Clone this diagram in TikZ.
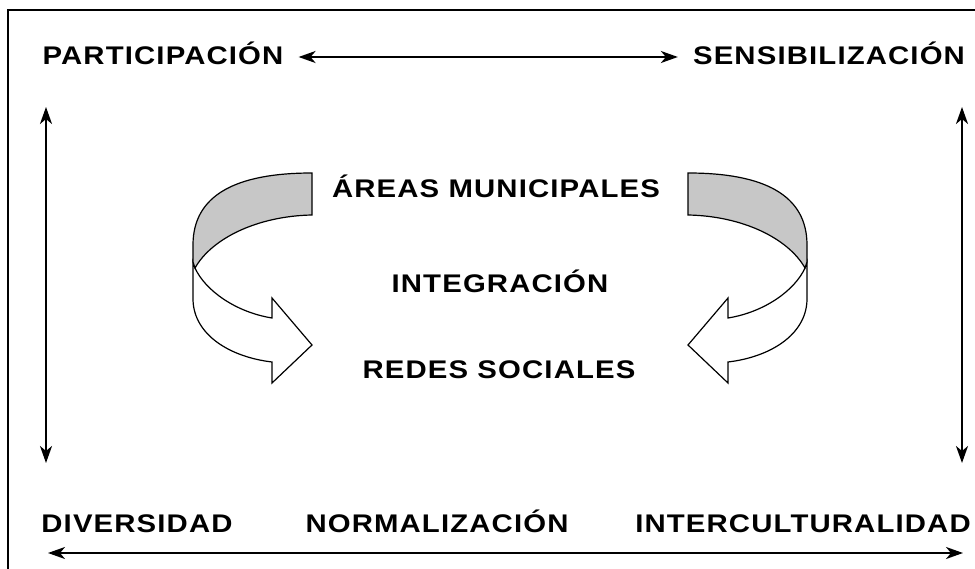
\documentclass[tikz,border=0pt]{standalone}
\usepackage{fontspec}
\setmainfont{Liberation Sans}
\newfontfamily\lblfont{Liberation Sans}[FakeStretch=1.15, LetterSpace=4.5]
\usetikzlibrary{arrows.meta}
\definecolor{bandgrey}{gray}{0.78}
\tikzset{
    lbl/.style={font=\lblfont\bfseries\fontsize{25.5}{29}\selectfont, text height=16pt, text depth=0pt, inner xsep=15pt, inner ysep=0pt, anchor=base},
    axis/.style={line width=2pt, {Stealth[length=17pt,width=12pt,inset=5pt]}-{Stealth[length=17pt,width=12pt,inset=5pt]}},
    ribbon/.style={line width=1.2pt, line join=miter}
}
\begin{document}
\begin{tikzpicture}[x=1pt, y=-1pt]
    \useasboundingbox (0,0) rectangle (975,569);
    \clip (0,0) rectangle (975,569);
    \draw[line width=2pt] (8,10) rectangle (1000,600);
    % labels round the frame
    \node[lbl] (part) at (163,65) {PARTICIPACIÓN};
    \node[lbl] (sens) at (829,65) {SENSIBILIZACIÓN};
    \node[lbl] (div) at (137,532) {DIVERSIDAD};
    \node[lbl] (norm) at (437,532) {NORMALIZACIÓN};
    \node[lbl] (inter) at (803,532) {INTERCULTURALIDAD};
    % labels in the middle
    \node[lbl] (areas) at (496,198) {ÁREAS MUNICIPALES};
    \node[lbl] (integ) at (500,293) {INTEGRACIÓN};
    \node[lbl] (redes) at (499,379) {REDES SOCIALES};
    % arrow ends
    \coordinate (lt) at (46,107);
    \coordinate (lb) at (46,463);
    \coordinate (rt) at (962,107);
    \coordinate (rb) at (962,463);
    \coordinate (bl) at (48,553);
    \coordinate (br) at (963,553);
    \draw[axis] (part.east) -- (sens.west);
    \draw[axis] (lt) -- (lb);
    \draw[axis] (rt) -- (rb);
    \draw[axis] (bl) -- (br);
    % the two turning ribbons
    \foreach \s/\d in {1/0pt,-1/1000pt}{
        \begin{scope}[xshift=\d, xscale=\s]
            \filldraw[ribbon, fill=white] (195,268) .. controls (205,290) and (235,312) .. (272,318)
                -- (272,298) -- (312,345) -- (272,383) -- (272,362)
                .. controls (230,357) and (194,335) .. (193,300) -- (193,262) -- cycle;
            \filldraw[ribbon, fill=bandgrey] (312,215) .. controls (258,216) and (212,238) .. (195,268)
                -- (193,262) -- (193,245) .. controls (193,195) and (236,173) .. (312,173) -- cycle;
        \end{scope}
    }
\end{tikzpicture}
\end{document}
